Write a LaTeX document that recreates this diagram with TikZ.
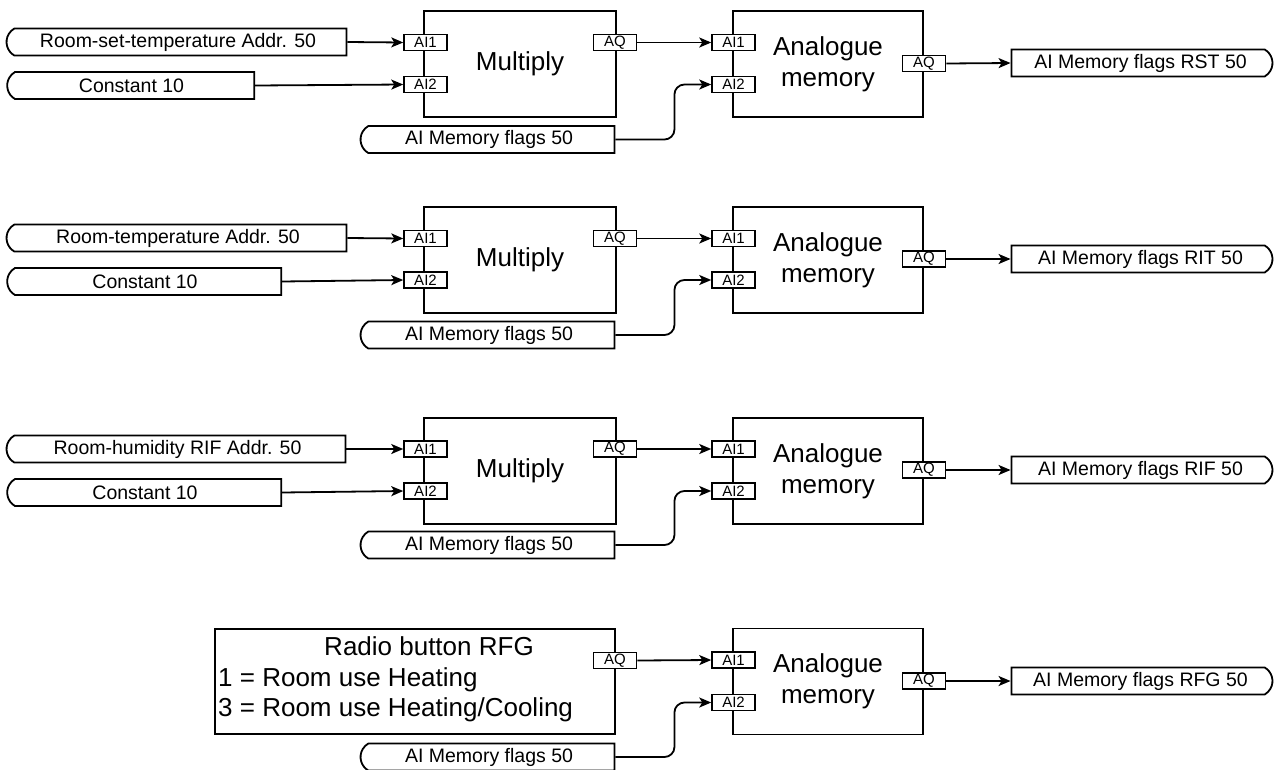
\documentclass[tikz,border=0pt]{standalone}
\usepackage{fontspec}
\setmainfont{Liberation Sans}
\usetikzlibrary{arrows.meta,shapes.misc}

\tikzset{
  block/.style={draw, line width=1.8pt, minimum width=192pt, minimum height=106pt,
    inner sep=0pt, align=center, font=\fontsize{26}{31}\selectfont},
  port/.style={draw, fill=white, line width=1.5pt, minimum width=43pt, minimum height=16pt,
    inner sep=0pt, font=\fontsize{15}{15}\selectfont},
  source/.style={draw, line width=1.8pt, rounded rectangle, rounded rectangle right arc=none,
    rounded rectangle arc length=120, minimum height=27pt, inner sep=0pt,
    font=\fontsize{19.5}{20}\selectfont},
  sink/.style={draw, line width=1.8pt, rounded rectangle, rounded rectangle left arc=none,
    rounded rectangle arc length=120, minimum height=27pt, inner sep=0pt,
    font=\fontsize{19.5}{20}\selectfont},
  flow/.style={line width=1.8pt, -{Stealth[length=12pt,width=10pt,inset=3pt]}}
}

\begin{document}
\begin{tikzpicture}[x=1pt,y=-1pt]
\useasboundingbox (0,0) rectangle (1274,769);

% row 1
\node[source, minimum width=340pt] (room1) at (178,42) {Room-set-temperature Addr. 50};
\node[source, minimum width=247pt] (const1) at (131.5,85.5) {Constant 10};
\node[block] (mult1) at (520,64) {Multiply};
\node[port] (mult1in1) at (425.5,42.5) {AI1};
\node[port] (mult1in2) at (425.5,84.5) {AI2};
\node[port] (mult1out) at (615,42.5) {AQ};
\node[source, minimum width=254pt] (flags1) at (489,139.5) {AI Memory flags 50};
\node[block, minimum width=190pt] (mem1) at (828,64) {Analogue\\memory};
\node[port] (mem1in1) at (733.5,42.5) {AI1};
\node[port] (mem1in2) at (733.5,84.5) {AI2};
\node[port] (mem1out) at (924,63.5) {AQ};
\node[sink, minimum width=261pt] (rst) at (1140.5,63) {AI Memory flags RST 50};
\draw[flow] (room1.east) -- (mult1in1.west);
\draw[flow] (const1.east) -- (mult1in2.west);
\draw[flow] (mult1out.east) -- (mem1in1.west);
\draw[flow, rounded corners=10pt] (flags1.east) -- ++(59,0) |- (mem1in2.west);
\draw[flow] (mem1out.east) -- (rst.west);

% row 2
\node[source, minimum width=340pt] (room2) at (178,238) {Room-temperature Addr. 50};
\node[source, minimum width=274pt] (const2) at (145,281.5) {Constant 10};
\node[block] (mult2) at (520,260) {Multiply};
\node[port] (mult2in1) at (425.5,238.5) {AI1};
\node[port] (mult2in2) at (425.5,280) {AI2};
\node[port] (mult2out) at (615,238.5) {AQ};
\node[source, minimum width=254pt] (flags2) at (489,335) {AI Memory flags 50};
\node[block, minimum width=190pt] (mem2) at (828,260) {Analogue\\memory};
\node[port] (mem2in1) at (733.5,238.5) {AI1};
\node[port] (mem2in2) at (733.5,280) {AI2};
\node[port] (mem2out) at (924,259) {AQ};
\node[sink, minimum width=261pt] (rit) at (1140.5,259) {AI Memory flags RIT 50};
\draw[flow] (room2.east) -- (mult2in1.west);
\draw[flow] (const2.east) -- (mult2in2.west);
\draw[flow] (mult2out.east) -- (mem2in1.west);
\draw[flow, rounded corners=10pt] (flags2.east) -- ++(59,0) |- (mem2in2.west);
\draw[flow] (mem2out.east) -- (rit.west);

% row 3
\node[source, minimum width=339pt] (room3) at (177.5,449) {Room-humidity RIF Addr. 50};
\node[source, minimum width=274pt] (const3) at (145,492.5) {Constant 10};
\node[block] (mult3) at (520,471) {Multiply};
\node[port] (mult3in1) at (425.5,449) {AI1};
\node[port] (mult3in2) at (425.5,491) {AI2};
\node[port] (mult3out) at (615,449) {AQ};
\node[source, minimum width=254pt] (flags3) at (489,545) {AI Memory flags 50};
\node[block, minimum width=190pt] (mem3) at (828,471) {Analogue\\memory};
\node[port] (mem3in1) at (733.5,449) {AI1};
\node[port] (mem3in2) at (733.5,491) {AI2};
\node[port] (mem3out) at (924,470) {AQ};
\node[sink, minimum width=261pt] (rif) at (1140.5,470) {AI Memory flags RIF 50};
\draw[flow] (room3.east) -- (mult3in1.west);
\draw[flow] (const3.east) -- (mult3in2.west);
\draw[flow] (mult3out.east) -- (mem3in1.west);
\draw[flow, rounded corners=10pt] (flags3.east) -- ++(59,0) |- (mem3in2.west);
\draw[flow] (mem3out.east) -- (rif.west);

% row 4
\node[block, minimum width=400pt, minimum height=105pt] (radio) at (415,681.5) {};
\node[anchor=base, font=\fontsize{26}{26}\selectfont] (radiotitle) at (429,655) {Radio button RFG};
\node[anchor=base west, inner sep=0pt, font=\fontsize{26}{26}\selectfont] (heat) at (218,686) {1 = Room use Heating};
\node[anchor=base west, inner sep=0pt, font=\fontsize{26}{26}\selectfont] (cool) at (218,716) {3 = Room use Heating/Cooling};
\node[port] (radioout) at (615,660.5) {AQ};
\node[source, minimum width=254pt] (flags4) at (489,757) {AI Memory flags 50};
\node[block, minimum width=190pt] (mem4) at (828,681.5) {Analogue\\memory};
\node[port] (mem4in1) at (733.5,660) {AI1};
\node[port] (mem4in2) at (733.5,702.5) {AI2};
\node[port] (mem4out) at (924,681) {AQ};
\node[sink, minimum width=261pt] (rfg) at (1140.5,681) {AI Memory flags RFG 50};
\draw[flow] (radioout.east) -- (mem4in1.west);
\draw[flow, rounded corners=10pt] (flags4.east) -- ++(59,0) |- (mem4in2.west);
\draw[flow] (mem4out.east) -- (rfg.west);
\end{tikzpicture}
\end{document}
